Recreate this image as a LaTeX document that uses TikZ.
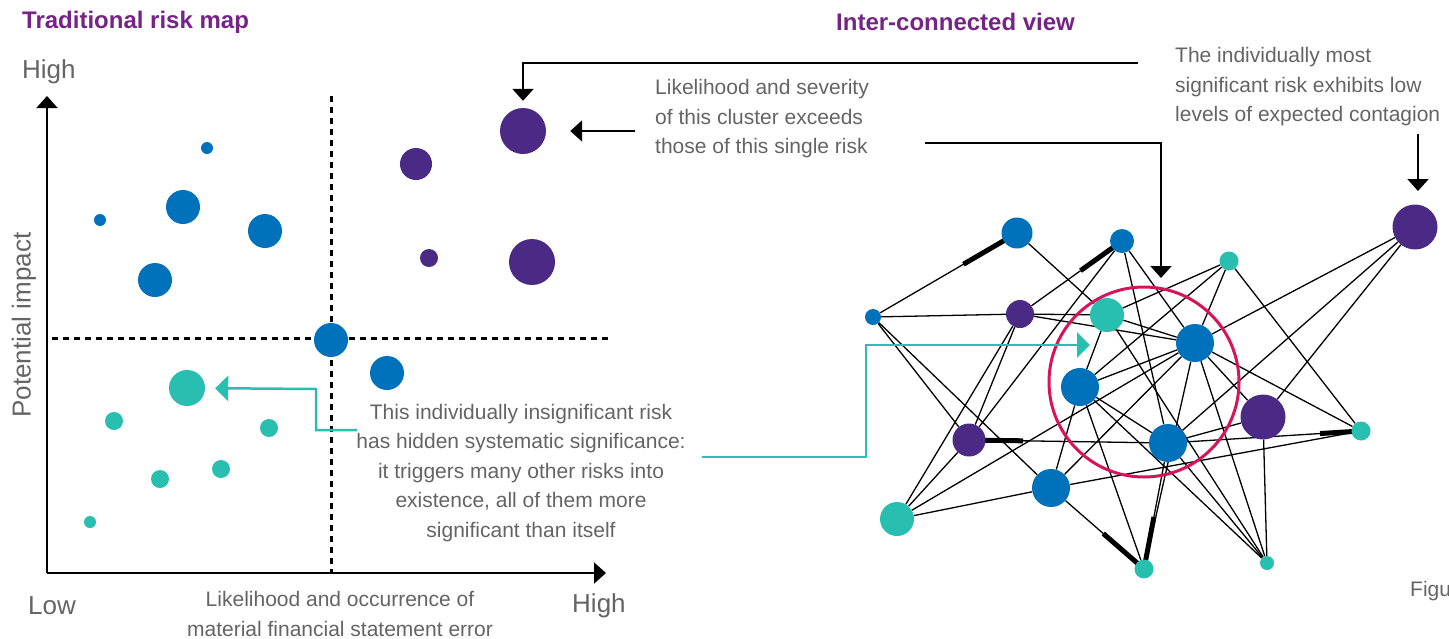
\documentclass[tikz,border=0pt]{standalone}
\usepackage{fontspec}
\setmainfont{Liberation Sans}
\usetikzlibrary{arrows.meta,calc,backgrounds}
\definecolor{kblue}{RGB}{0,114,188}
\definecolor{kpurple}{RGB}{75,42,133}
\definecolor{kteal}{RGB}{40,190,176}
\definecolor{kmag}{RGB}{214,20,90}
\definecolor{ktitle}{RGB}{118,35,136}
\definecolor{kgray}{RGB}{100,100,100}
\begin{document}
\begin{tikzpicture}[x=1pt,y=-1pt,
  dot/.style={circle,inner sep=0pt,minimum size=#1},
  bdot/.style={dot=#1,fill=kblue},
  pdot/.style={dot=#1,fill=kpurple},
  tdot/.style={dot=#1,fill=kteal},
  edge/.style={line width=1.3pt,black},
  strong/.style={line width=5pt,black},
  callout/.style={line width=2pt,black},
  tealline/.style={line width=2.5pt,kteal},
  tip/.style={-{Triangle[width=21pt,length=12pt]}},
  tealtip/.style={-{Triangle[width=25pt,length=13pt]}},
  body/.style={text=kgray,font=\fontsize{21}{29.5}\selectfont,inner sep=0pt},
  axislabel/.style={text=kgray,font=\fontsize{26}{30}\selectfont,inner sep=0pt},
  title/.style={text=ktitle,font=\bfseries\fontsize{24}{28}\selectfont,inner sep=0pt,anchor=west},
  gridline/.style={dash pattern=on 6pt off 5pt,line width=3pt}
]
\useasboundingbox (0,0) rectangle (1449,638);

% titles
\node[title] (t1) at (22,22) {Traditional risk map};
\node[title] (t2) at (836,22) {Inter-connected view};

% axes labels
\node[axislabel,anchor=west] (yhigh) at (22,72) {High};
\node[axislabel,anchor=west] (xlow) at (28,606) {Low};
\node[axislabel,anchor=west] (xhigh) at (572,606) {High};
\node[axislabel,rotate=90] (ylab) at (24,325) {Potential impact};
\node[body,align=center] (xlab) at (340,614) {Likelihood and occurrence of\\material financial statement error};

% axes
\coordinate (orig) at (47,573);
\coordinate (ytop) at (47,96);
\coordinate (xend) at (606,573);
\draw[callout,tip] (orig) -- (ytop);
\draw[callout,tip] (orig) -- (xend);

% quadrant lines
\coordinate (v1) at (331,96);
\coordinate (v2) at (331,572);
\coordinate (h1) at (52,338);
\coordinate (h2) at (608,338);
\draw[gridline] (v1) -- (v2);
\draw[gridline] (h1) -- (h2);

% left chart dots
\node[bdot=12pt] (lb1) at (207,148) {};
\node[bdot=12pt] (lb2) at (100,220) {};
\node[bdot=34pt] (lb3) at (183,207) {};
\node[bdot=34pt] (lb4) at (265,231) {};
\node[bdot=34pt] (lb5) at (155,280) {};
\node[bdot=34pt] (lb6) at (331,340) {};
\node[bdot=34pt] (lb7) at (387,373) {};
\node[pdot=46pt] (lp1) at (523,131) {};
\node[pdot=32pt] (lp2) at (416,164) {};
\node[pdot=18pt] (lp3) at (429,258) {};
\node[pdot=46pt] (lp4) at (532,262) {};
\node[tdot=36pt] (lt1) at (187,388) {};
\node[tdot=18pt] (lt2) at (114,421) {};
\node[tdot=18pt] (lt3) at (269,428) {};
\node[tdot=18pt] (lt4) at (221,469) {};
\node[tdot=18pt] (lt5) at (160,479) {};
\node[tdot=12pt] (lt6) at (90,522) {};

% annotation texts
\node[body,align=left,anchor=west] (txt1) at (655,119) {Likelihood and severity\\of this cluster exceeds\\those of this single risk};
\node[body,align=left,anchor=west] (txt2) at (1175,87) {The individually most\\significant risk exhibits low\\levels of expected contagion};
\node[body,align=center] (txt3) at (521,473) {This individually insignificant risk\\has hidden systematic significance:\\it triggers many other risks into\\existence, all of them more\\significant than itself};
\node[body,anchor=west] (fig) at (1410,591) {Figu};

% network nodes
\node[bdot=16pt] (A) at (873,317) {};
\node[bdot=31pt] (B) at (1017,233) {};
\node[bdot=24pt] (C) at (1122,241) {};
\node[pdot=28pt] (D) at (1020,314) {};
\node[tdot=34pt] (E) at (1107,315) {};
\node[tdot=19pt] (F) at (1229,261) {};
\node[pdot=45pt] (G) at (1415,227) {};
\node[bdot=38pt] (H) at (1195,343) {};
\node[bdot=38pt] (I) at (1080,387) {};
\node[pdot=33pt] (J) at (969,440) {};
\node[pdot=45pt] (K) at (1263,417) {};
\node[tdot=19pt] (L) at (1361,431) {};
\node[bdot=38pt] (M) at (1168,443) {};
\node[tdot=34pt] (N) at (897,519) {};
\node[bdot=38pt] (O) at (1051,488) {};
\node[tdot=19pt] (P) at (1144,569) {};
\node[tdot=14pt] (Q) at (1267,563) {};

\begin{pgfonlayer}{background}
\foreach \a/\b in {A/B,A/D,A/J,A/O,B/E,C/D,C/M,C/H,C/J,D/E,D/H,D/J,D/N,
  E/F,E/I,E/H,E/Q,F/I,F/H,F/L,G/H,G/M,G/K,H/K,H/L,H/N,H/O,H/P,H/Q,H/I,
  I/O,I/P,I/Q,I/M,J/M,J/N,K/M,K/Q,L/M,L/O,M/P,M/Q,N/O,O/P}
  \draw[edge] (\a) -- (\b);
% strong ends
\draw[strong] ($(B)!15pt!(A)$) -- ($(B)!62pt!(A)$);
\draw[strong] ($(C)!11pt!(D)$) -- ($(C)!51pt!(D)$);
\draw[strong] ($(J)!15pt!(M)$) -- ($(J)!54pt!(M)$);
\draw[strong] ($(L)!8pt!(M)$) -- ($(L)!41pt!(M)$);
\draw[strong] ($(P)!8pt!(O)$) -- ($(P)!54pt!(O)$);
\draw[strong] ($(P)!8pt!(M)$) -- ($(P)!53pt!(M)$);
\end{pgfonlayer}

% cluster ring
\node[circle,draw=kmag,line width=3pt,minimum size=190pt,inner sep=0pt] (ring) at (1144,382) {};

% black callouts
\coordinate (c1) at (1138,63);
\draw[callout,tip,shorten >=7pt] (c1) -| (lp1.north);
\coordinate (c2) at (635,131);
\draw[callout,tip,shorten >=24pt] (c2) -- (lp1.east);
\coordinate (c3) at (925,143);
\coordinate (c3e) at (1161,278);
\draw[callout,tip] (c3) -| (c3e);
\coordinate (c4) at (1418,134);
\coordinate (c4e) at (1418,191);
\draw[callout,tip] (c4) -- (c4e);

% teal callouts
\coordinate (s1) at (357,430);
\coordinate (s2) at (316,389);
\draw[tealline,tealtip,shorten >=10pt] (s1) -| (s2) -- (lt1);
\coordinate (r1) at (702,457);
\coordinate (r2) at (866,345);
\coordinate (r3) at (1090,345);
\draw[tealline,tealtip] (r1) -| (r2) -- (r3);
\end{tikzpicture}
\end{document}
